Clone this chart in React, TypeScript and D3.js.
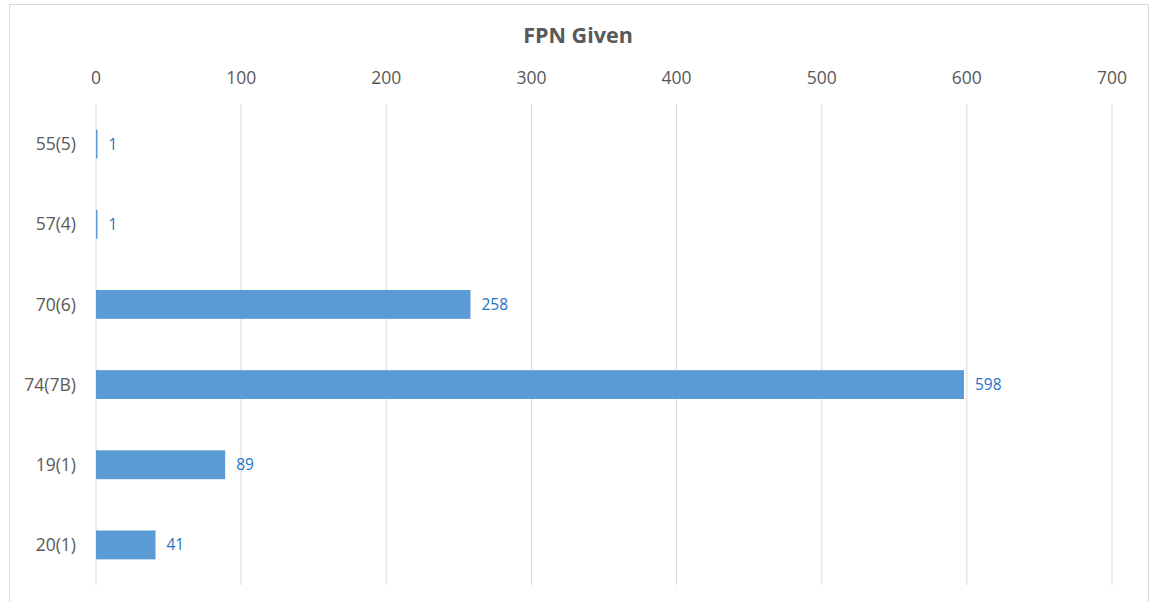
import React from "react";
import * as d3 from "d3";

const categories = ["55(5)", "57(4)", "70(6)", "74(7B)", "19(1)", "20(1)"];
const values = [1, 1, 258, 598, 89, 41];
const xTicks = [0, 100, 200, 300, 400, 500, 600, 700];
const title = "FPN Given";

const W = 1150;
const H = 602;
const left = 96;
const right = 1112;
const top = 104;
const bottom = 585;
const font = "'Open Sans', 'Noto Sans', sans-serif";

export default function App() {
  const x = d3.scaleLinear().domain([0, 700]).range([left, right]);
  const y = d3.scaleBand<string>().domain(categories).range([top, bottom]).paddingInner(0.64).paddingOuter(0.32);
  return (
    <svg width={W} height={H} style={{ position: "absolute", left: 0, top: 0, background: "#fff" }}>
      <rect x={9.5} y={4.5} width={1139} height={620} fill="#fff" stroke="#d9d9d9" strokeWidth={1} />
      <text x={578} y={43} textAnchor="middle" fontFamily={font} fontWeight="bold" fontSize={21.5} fill="#595959">
        {title}
      </text>
      {xTicks.map((t) => (
        <g key={t}>
          <line x1={x(t)} x2={x(t)} y1={top} y2={bottom} stroke="#d9d9d9" strokeWidth={1} />
          <text x={x(t)} y={84} textAnchor="middle" fontFamily={font} fontSize={17.5} fill="#595959">
            {t}
          </text>
        </g>
      ))}
      {categories.map((c, i) => {
        const by = y(c)!;
        const bh = y.bandwidth();
        const cy = by + bh / 2;
        return (
          <g key={c}>
            <rect x={x(0)} y={by} width={x(values[i]) - x(0)} height={bh} fill="#5b9bd5" />
            <text x={76} y={cy} dy="0.35em" textAnchor="end" fontFamily={font} fontSize={17.5} fill="#595959">
              {c}
            </text>
            <text x={x(values[i]) + 11} y={cy} dy="0.35em" fontFamily={font} fontSize={15.5} fill="#1f73c0">
              {values[i]}
            </text>
          </g>
        );
      })}
    </svg>
  );
}
